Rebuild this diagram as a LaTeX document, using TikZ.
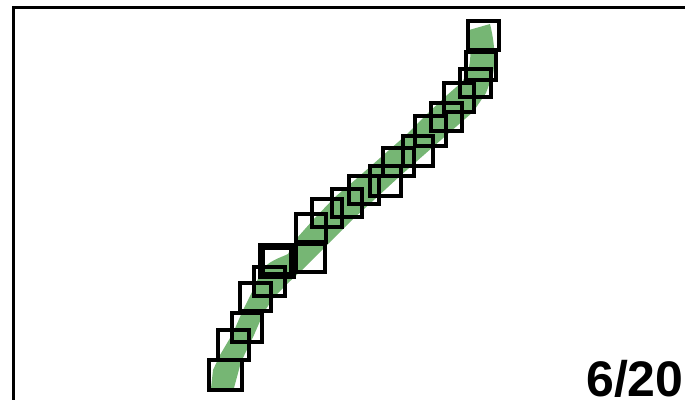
\documentclass[tikz,border=0pt]{standalone}
\usepackage{fontspec}
\setmainfont{Liberation Sans}
\definecolor{bandgreen}{RGB}{118,182,116}
\begin{document}
\begin{tikzpicture}[x=1pt,y=-1pt,
  box/.style={draw=black,line width=3.2pt,line join=miter},
  thickbox/.style={draw=black,line width=7pt,line join=miter},
  frame/.style={draw=black,line width=3pt}]
\useasboundingbox (0,0) rectangle (685,399);
\begin{scope}
\clip (0,0) rectangle (685,399);
\draw[frame] (13,7) rectangle (700,420);
% green band
\fill[bandgreen] (211,388) -- (213,370) -- (220,355) -- (233,333) -- (243,310) -- (253,290) -- (261,272)
  .. controls (267,261) and (280,258) .. (288,254)
  -- (297,238) -- (313,220) -- (335,197) -- (355,180) -- (380,158) -- (405,136) -- (425,116) -- (446,96) -- (462,82)
  .. controls (470,70) and (471,60) .. (470,48) -- (469,30) -- (490,24)
  .. controls (494,40) and (496,58) .. (493,74)
  -- (486,93) -- (473,112) -- (450,132) -- (425,154) -- (400,176) -- (375,199) -- (353,219) -- (335,237) -- (318,254)
  -- (302,270) -- (287,284) -- (274,297) -- (264,312) -- (254,335) -- (241,362) -- (234,388) -- cycle;
% boxes
\draw[box] (209,360) rectangle (242,390);
\draw[box] (218,330) rectangle (249,360);
\draw[box] (232,313) rectangle (262,342);
\draw[box] (240,283) rectangle (271,311);
\draw[box] (254,267) rectangle (285,296);
\draw[box] (296,244) rectangle (325,272);
\draw[box] (296,214) rectangle (326,242);
\draw[box] (312,199) rectangle (342,227);
\draw[box] (332,189) rectangle (362,217);
\draw[box] (349,176) rectangle (379,204);
\draw[box] (370,166) rectangle (401,196);
\draw[box] (383,148) rectangle (414,176);
\draw[box] (403,136) rectangle (433,166);
\draw[box] (415,116) rectangle (446,146);
\draw[box] (431,103) rectangle (462,131);
\draw[box] (444,83) rectangle (474,112);
\draw[box] (460,69) rectangle (491,97);
\draw[box] (466,52) rectangle (496,80);
\draw[box] (468,21) rectangle (499,50);
\draw[thickbox] (261,246) rectangle (292,275);
\node[anchor=base west,inner sep=0pt,font=\fontsize{50}{50}\selectfont\bfseries] (label) at (586,396) {6/20};
\end{scope}
\end{tikzpicture}
\end{document}
